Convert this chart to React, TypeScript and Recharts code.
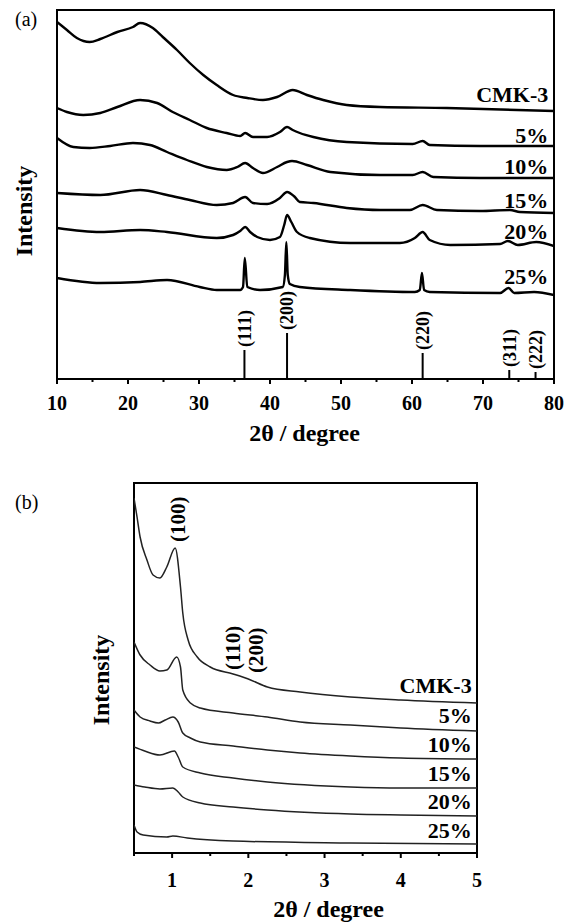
import {
  ComposedChart,
  Line,
  Scatter,
  XAxis,
  YAxis,
  ReferenceLine,
  ReferenceArea,
} from "recharts";

const FONT = '"Liberation Serif", "Times New Roman", Times, serif';

// ---------- (a) wide-angle XRD, 2θ (deg) vs intensity (a.u., offset) ----------
const wideCMK3 = [
  [10, 357], [11.4, 349], [12.8, 341], [14.6, 337], [16.1, 340], [18.5, 347],
  [20.7, 352], [21.7, 356], [23.5, 351], [24.9, 342], [26.9, 329], [28.7, 316],
  [30.6, 304], [32.5, 294], [34.8, 284], [36.8, 281], [39, 279], [41, 282],
  [43.2, 289], [45.2, 284], [47.5, 279], [50.8, 274], [55.5, 272], [64.9, 271],
  [80, 268],
];
const wide5 = [
  [10, 271], [11.4, 267], [13.7, 264], [16.1, 266], [18.5, 272], [21.7, 279],
  [24.1, 276], [26.3, 267], [28.7, 259], [31.1, 251], [33.9, 246], [35.8, 243],
  [36.5, 246], [37.6, 242], [39.6, 242], [41.4, 247], [42.4, 252], [43.2, 249],
  [44.2, 246], [46.1, 242], [50.8, 237], [60.1, 235], [61.5, 238], [62.5, 234],
  [69.6, 233], [80, 233],
];
const wide10 = [
  [10, 241], [12.3, 232], [14.6, 231], [17.5, 233], [20.7, 236], [23.1, 234],
  [25.5, 227], [28.3, 219], [31.1, 212], [33.9, 209], [35.4, 212], [36.5, 216],
  [37.6, 211], [39, 206], [41, 212], [42.4, 217], [43.1, 218], [45.2, 214],
  [48.5, 207], [55.5, 204], [60.1, 204], [61.5, 207], [63, 202], [69.6, 201],
  [80, 201],
];
const wide15 = [
  [10, 186], [16.1, 184], [21.7, 189], [25.5, 184], [28.7, 179], [32.5, 174],
  [34.8, 176], [36.5, 182], [37.6, 176], [39.6, 175], [41.4, 181], [42.4, 187],
  [43.5, 182], [44.2, 177], [46.1, 176], [50.8, 171], [55.5, 169], [59.7, 169],
  [61.5, 174], [63.5, 169], [69.6, 168], [73.8, 169], [75.2, 167], [80, 166],
];
const wide20 = [
  [10, 151], [16.1, 147], [21.7, 149], [25.5, 147], [32.5, 141], [34.8, 144],
  [35.8, 148], [36.5, 152], [37.2, 147], [38.2, 142], [40, 139], [41.4, 142],
  [42, 154], [42.4, 164], [43, 157], [43.8, 147], [45.6, 141], [51.3, 136],
  [58.3, 136], [60.4, 141], [61.5, 147], [62.5, 139], [65.4, 134], [72.4, 135],
  [73.5, 138], [74.9, 134], [77.5, 137], [80, 133],
];
const wide25 = [
  [10, 101], [16.1, 96], [21.7, 97], [25.5, 99], [30.1, 92], [32.5, 89],
  [35.8, 89], [36.2, 92], [36.45, 121], [36.8, 92], [38.6, 89], [41.8, 92],
  [42.1, 104], [42.3, 137], [42.5, 104], [42.8, 95], [44.2, 92], [51.3, 89],
  [60.4, 87], [61.1, 89], [61.4, 106], [61.7, 89], [62.5, 87], [72.4, 86],
  [73.6, 91], [74.4, 86], [77.2, 87], [80, 84],
];
const wideSeries = [wideCMK3, wide5, wide10, wide15, wide20, wide25];
const sampleNames = ["CMK-3", "5%", "10%", "15%", "20%", "25%"];
const wideLabelLevel = [277, 236, 205, 171, 140, 95];

// reference reflections (stick pattern)
const wideHkl = ["(111)", "(200)", "(220)", "(311)", "(222)"];
const wideHklPos = [36.4, 42.4, 61.5, 73.7, 77.4];
const wideHklHeight = [29, 46, 26, 9, 7];

const wideTicks = [10, 15, 20, 25, 30, 35, 40, 45, 50, 55, 60, 65, 70, 75, 80];

// ---------- (b) small-angle XRD ----------
const smallCMK3 = [
  [0.5, 355], [0.54, 336], [0.58, 316], [0.67, 293], [0.75, 278], [0.84, 275],
  [0.93, 286], [1.04, 305], [1.11, 266], [1.14, 240], [1.21, 213], [1.33, 196],
  [1.5, 186], [1.8, 179], [2.03, 173], [2.25, 166], [2.68, 161], [3.34, 156],
  [4, 153], [5, 150],
];
const small5 = [
  [0.5, 211], [0.58, 198], [0.71, 188], [0.84, 182], [0.93, 183], [1.06, 196],
  [1.11, 186], [1.14, 163], [1.24, 150], [1.37, 145], [1.8, 140], [2.25, 136],
  [2.68, 131], [3.34, 128], [4, 125], [5, 122],
];
const small10 = [
  [0.5, 143], [0.58, 136], [0.71, 132], [0.82, 130], [0.91, 133], [1.01, 136],
  [1.08, 131], [1.14, 120], [1.24, 115], [1.37, 111], [1.8, 107], [2.25, 103],
  [2.68, 100], [3.34, 97], [4, 95], [5, 94],
];
const small15 = [
  [0.5, 106], [0.64, 102], [0.84, 98], [1.03, 102], [1.08, 96], [1.14, 86],
  [1.37, 80], [1.8, 75], [2.25, 71], [3.34, 66], [4, 65], [5, 65],
];
const small20 = [
  [0.5, 68], [0.64, 66], [0.84, 64], [1.01, 65], [1.08, 61], [1.14, 56],
  [1.37, 50], [1.8, 46], [2.25, 43], [3.34, 39], [4, 38], [5, 37],
];
const small25 = [
  [0.5, 28], [0.54, 21], [0.62, 18], [0.93, 16], [1.01, 17], [1.2, 15],
  [1.8, 12], [3.34, 10], [5, 9],
];
const smallSeries = [smallCMK3, small5, small10, small15, small20, small25];
const smallLabelLevel = [160, 130, 101, 72, 44, 15];

const smallHkl = ["(100)", "(110)", "(200)"];
const smallHklPos = [1.07, 1.79, 2.1];
const smallHklLevel = [311, 183, 180];

const smallTicks = [0.5, 1, 1.5, 2, 2.5, 3, 3.5, 4, 4.5, 5];

const toPts = (arr: number[][]) => arr.map(([x, y]) => ({ x, y }));

function AxisTick(props: any) {
  const { x, y, payload, isMajor, gap } = props;
  const major = isMajor(payload.value);
  return (
    <g>
      <line x1={x} y1={y} x2={x} y2={y + (major ? 5 : 3)} stroke="#000" strokeWidth={2} />
      {major && (
        <text x={x} y={y + gap} textAnchor="middle" fontFamily={FONT} fontWeight="bold" fontSize={20} fill="#000">
          {payload.value}
        </text>
      )}
    </g>
  );
}

const xTitle = (dx: number, dy: number) => (p: any) => {
  const vb = p.viewBox;
  return (
    <text x={vb.x + vb.width / 2 + dx} y={vb.y + dy} textAnchor="middle" fontFamily={FONT} fontWeight="bold" fontSize={24} fill="#000">
      2θ / degree
    </text>
  );
};

const yTitle = (bx: number, cy: number) => () => (
  <text transform={`translate(${bx},${cy}) rotate(-90)`} textAnchor="middle" fontFamily={FONT} fontWeight="bold" fontSize={24} fill="#000">
    Intensity
  </text>
);

const vertLabel = (fs: number, gap: number) => (p: any) => (
  <text
    transform={`translate(${p.cx},${p.cy - gap}) rotate(-90)`}
    dy="0.35em"
    textAnchor="start"
    fontFamily={FONT}
    fontWeight="bold"
    fontSize={fs}
    fill="#000"
  >
    {p.payload.label}
  </text>
);

const curveLabel = (p: any) => (
  <text x={p.cx} y={p.cy} textAnchor="end" fontFamily={FONT} fontWeight="bold" fontSize={22} fill="#000">
    {p.payload.label}
  </text>
);

const WideAngle = () => {
  const sticks = wideHkl.map((label, i) => ({ x: wideHklPos[i], y: wideHklHeight[i], label }));
  const names = sampleNames.map((label, i) => ({ x: 79.2, y: wideLabelLevel[i], label }));
  return (
    <ComposedChart width={575} height={450} margin={{ top: 10, right: 21, bottom: 0, left: 0 }}>
      <XAxis
        dataKey="x"
        type="number"
        domain={[10, 80]}
        allowDataOverflow
        ticks={wideTicks}
        interval={0}
        tickSize={0}
        tickMargin={0}
        axisLine={false}
        tickLine={false}
        height={71}
        tick={(p: any) => <AxisTick {...p} gap={31} isMajor={(v: number) => v % 10 === 0} />}
        label={xTitle(-1, 62)}
      />
      <YAxis
        type="number"
        domain={[0, 369]}
        allowDataOverflow
        width={57}
        tick={false}
        tickLine={false}
        axisLine={false}
        label={yTitle(32, 211)}
      />
      <ReferenceArea x1={10} x2={80} y1={0} y2={369} fill="none" stroke="#000" strokeWidth={2} ifOverflow="visible" />
      {sticks.map((s) => (
        <ReferenceLine
          key={s.label}
          segment={[{ x: s.x, y: 0 }, { x: s.x, y: s.y }]}
          stroke="#000"
          strokeWidth={2}
        />
      ))}
      {wideSeries.map((arr, i) => (
        <Line
          key={sampleNames[i]}
          data={toPts(arr)}
          dataKey="y"
          type="monotone"
          stroke="#000"
          strokeWidth={2.4}
          dot={false}
          isAnimationActive={false}
        />
      ))}
      <Scatter data={sticks} dataKey="y" shape={vertLabel(18, 3)} isAnimationActive={false} />
      <Scatter data={names} dataKey="y" shape={curveLabel} isAnimationActive={false} />
    </ComposedChart>
  );
};

const SmallAngle = () => {
  const hkl = smallHkl.map((label, i) => ({ x: smallHklPos[i], y: smallHklLevel[i], label }));
  const names = sampleNames.map((label, i) => ({ x: 4.93, y: smallLabelLevel[i], label }));
  return (
    <ComposedChart width={575} height={464} margin={{ top: 23, right: 98, bottom: 0, left: 0 }}>
      <XAxis
        dataKey="x"
        type="number"
        domain={[0.5, 5]}
        allowDataOverflow
        ticks={smallTicks}
        interval={0}
        tickSize={0}
        tickMargin={0}
        axisLine={false}
        tickLine={false}
        height={71}
        tick={(p: any) => <AxisTick {...p} gap={34} isMajor={(v: number) => Number.isInteger(v)} />}
        label={xTitle(23, 64)}
      />
      <YAxis
        type="number"
        domain={[0, 370]}
        allowDataOverflow
        width={134}
        tick={false}
        tickLine={false}
        axisLine={false}
        label={yTitle(109, 220)}
      />
      <ReferenceArea x1={0.5} x2={5} y1={0} y2={370} fill="none" stroke="#000" strokeWidth={2} ifOverflow="visible" />
      {smallSeries.map((arr, i) => (
        <Line
          key={sampleNames[i]}
          data={toPts(arr)}
          dataKey="y"
          type="monotone"
          stroke="#222"
          strokeWidth={1.5}
          dot={false}
          isAnimationActive={false}
        />
      ))}
      <Scatter data={hkl} dataKey="y" shape={vertLabel(21, 0)} isAnimationActive={false} />
      <Scatter data={names} dataKey="y" shape={curveLabel} isAnimationActive={false} />
    </ComposedChart>
  );
};

export default function App() {
  const tag = { position: "absolute" as const, fontFamily: FONT, fontSize: 20, lineHeight: "20px" };
  return (
    <div style={{ position: "absolute", left: 0, top: 0, width: 575, height: 924, background: "#fff" }}>
      <div style={{ position: "absolute", left: 0, top: 0 }}>
        <WideAngle />
      </div>
      <div style={{ position: "absolute", left: 0, top: 460 }}>
        <SmallAngle />
      </div>
      <span style={{ ...tag, left: 15, top: 9 }}>(a)</span>
      <span style={{ ...tag, left: 15, top: 492 }}>(b)</span>
    </div>
  );
}
